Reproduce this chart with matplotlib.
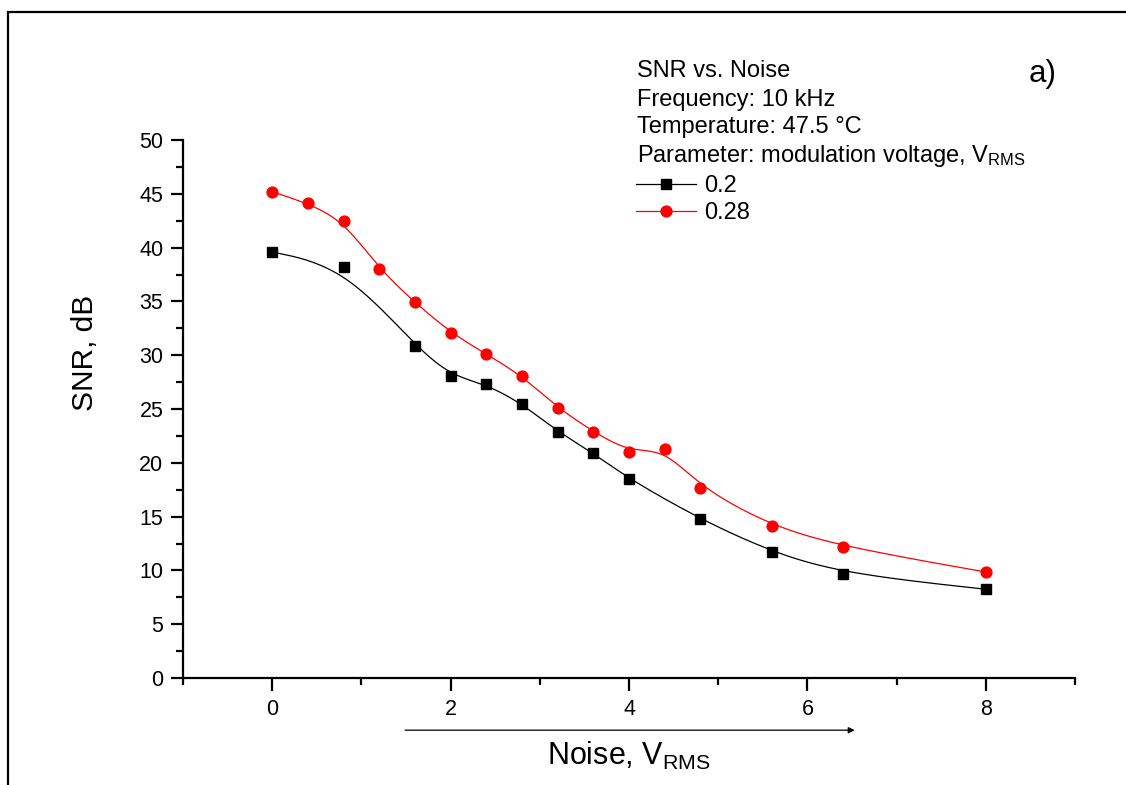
import numpy as np
import matplotlib
matplotlib.use('Agg')
import matplotlib.pyplot as plt
from matplotlib.lines import Line2D
from matplotlib.patches import Rectangle
from matplotlib.ticker import MultipleLocator

plt.rcParams['font.family'] = ['Liberation Sans', 'DejaVu Sans']
plt.rcParams['mathtext.fontset'] = 'custom'
plt.rcParams['mathtext.rm'] = 'Liberation Sans'
plt.rcParams['mathtext.it'] = 'Liberation Sans'

# data
noise_02 = [0, 0.8, 1.6, 2.0, 2.4, 2.8, 3.2, 3.6, 4.0, 4.8, 5.6, 6.4, 8.0]
snr_02 = [39.6, 38.2, 30.9, 28.1, 27.3, 25.5, 22.9, 20.9, 18.5, 14.75, 11.7, 9.7, 8.25]
noise_028 = [0, 0.4, 0.8, 1.2, 1.6, 2.0, 2.4, 2.8, 3.2, 3.6, 4.0, 4.4, 4.8, 5.6, 6.4, 8.0]
snr_028 = [45.2, 44.1, 42.5, 38.0, 34.9, 32.1, 30.1, 28.1, 25.1, 22.9, 21.0, 21.3, 17.7, 14.1, 12.2, 9.85]
series_labels = ['0.2', '0.28']


# cubic B-spline through clamped control points (like Origin's B-spline connect)
def bspline(x, y, n=30):
    px = np.r_[x[0], x[0], x, x[-1], x[-1]]
    py = np.r_[y[0], y[0], y, y[-1], y[-1]]
    t = np.linspace(0, 1, n)
    b = np.array([(1 - t) ** 3, 3 * t**3 - 6 * t**2 + 4, -3 * t**3 + 3 * t**2 + 3 * t + 1, t**3]) / 6
    xs, ys = [], []
    for i in range(len(px) - 3):
        xs.append(b.T @ px[i:i + 4])
        ys.append(b.T @ py[i:i + 4])
    return np.concatenate(xs), np.concatenate(ys)


fig = plt.figure(figsize=(11.26, 7.85), dpi=100)
ax = fig.add_axes([183 / 1126, 107 / 785, 892 / 1126, 538 / 785])

for x, y, c, m, ms in [(noise_02, snr_02, 'black', 's', 7.2), (noise_028, snr_028, 'red', 'o', 7.8)]:
    cx, cy = bspline(np.array(x), np.array(y))
    ax.plot(cx, cy, color=c, lw=0.9)
    ax.plot(x, y, ls='none', marker=m, ms=ms, color=c, mec=c)

ax.set_xlim(-1, 9)
ax.set_ylim(0, 50)
ax.xaxis.set_major_locator(MultipleLocator(2))
ax.xaxis.set_minor_locator(MultipleLocator(1))
ax.yaxis.set_major_locator(MultipleLocator(5))
ax.yaxis.set_minor_locator(MultipleLocator(2.5))
for s in ['top', 'right']:
    ax.spines[s].set_visible(False)
for s in ['left', 'bottom']:
    ax.spines[s].set_linewidth(1.6)
ax.tick_params(which='major', length=9, width=1.6, labelsize=15.5, direction='out')
ax.tick_params(which='minor', length=4.8, width=1.6, direction='out')
ax.tick_params(axis='x', which='major', pad=6.2)
ax.tick_params(axis='y', which='major', pad=5.2)

ax.text(-0.11, 0.605, 'SNR, dB', transform=ax.transAxes, rotation=90,
        ha='center', va='center', fontsize=21.5)
ax.text(0.5, -0.145, r'Noise, V$_\mathrm{RMS}$', transform=ax.transAxes,
        ha='center', va='center', fontsize=22)

# arrow under the x axis
ax.annotate('', xy=(6.53, -0.097), xytext=(1.49, -0.097),
            xycoords=('data', 'axes fraction'), textcoords=('data', 'axes fraction'),
            arrowprops=dict(arrowstyle='-|>', lw=0.9, color='black', mutation_scale=9,
                            shrinkA=0, shrinkB=0), annotation_clip=False)

# legend text block
lines = ['SNR vs. Noise', 'Frequency: 10 kHz', 'Temperature: 47.5 °C',
         r'Parameter: modulation voltage, V$_\mathrm{RMS}$']
baselines = [76.7, 105.7, 133.3, 161.7]
for txt, yb in zip(lines, baselines):
    fig.text(637 / 1126, 1 - yb / 785, txt, ha='left', va='baseline', fontsize=17)

handles = [Line2D([], [], color='black', lw=0.9, marker='s', ms=7.2),
           Line2D([], [], color='red', lw=0.9, marker='o', ms=7.8)]
fig.legend(handles, series_labels, loc='upper left', bbox_to_anchor=(636 / 1126, 1 - 175 / 785),
           frameon=False, fontsize=17, handlelength=2.55, handletextpad=0.33,
           labelspacing=0.22, borderpad=0, borderaxespad=0)

fig.text(1029 / 1126, 1 - 82 / 785, 'a)', ha='left', va='baseline', fontsize=22.5)

# outer frame
fig.add_artist(Rectangle((8 / 1126, -0.1), 1.2, 1 - 12 / 785 + 0.1, transform=fig.transFigure,
                         fill=False, lw=1.6, ec='black'))

fig.savefig('out.png', dpi=100)
